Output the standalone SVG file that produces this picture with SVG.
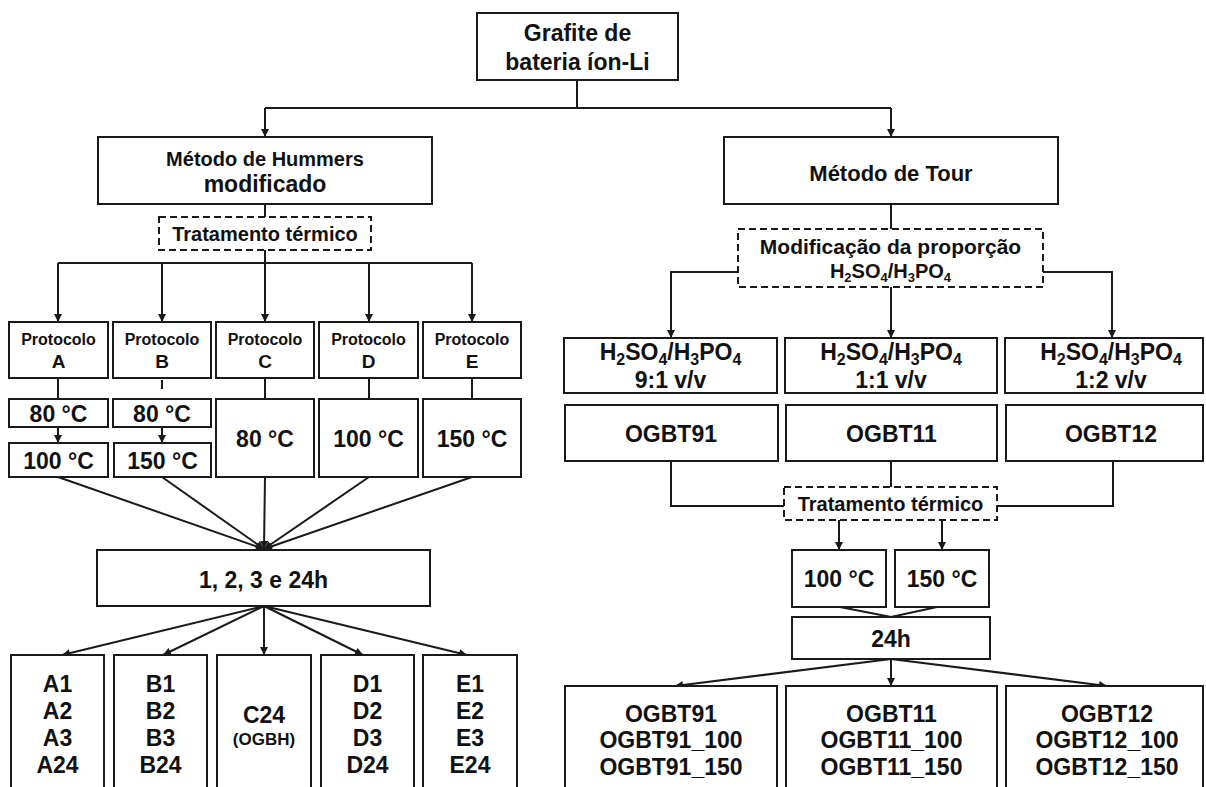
<svg xmlns="http://www.w3.org/2000/svg" width="1206" height="787" viewBox="0 0 1206 787">
<defs>
<style>
.b{fill:#fff;stroke:#1a1a1a;stroke-width:2}
.d{fill:#fff;stroke:#1a1a1a;stroke-width:2;stroke-dasharray:7 4}
.c{fill:none;stroke:#1a1a1a;stroke-width:2}
text{font-family:"Liberation Sans",Arial,sans-serif;font-weight:bold;fill:#111;text-anchor:middle}
.s{font-size:16px}
.m{font-size:20px}
.l{font-size:23px}
</style>
<marker id="ah" viewBox="0 0 10 10" refX="10" refY="5" markerWidth="9" markerHeight="8" markerUnits="userSpaceOnUse" orient="auto">
<path d="M0,0 L10,5 L0,10 z" fill="#1a1a1a"/>
</marker>
</defs>
<rect width="1206" height="787" fill="#fff"/>

<g id="connectors">
<path class="c" d="M577,80 V108 M265,108 H891"/>
<path class="c" d="M265,108 V137" marker-end="url(#ah)"/>
<path class="c" d="M891,108 V137" marker-end="url(#ah)"/>
<path class="c" d="M265,204 V217 M265,250 V263 M58,263 H472"/>
<path class="c" d="M58,263 V322" marker-end="url(#ah)"/>
<path class="c" d="M162,263 V322" marker-end="url(#ah)"/>
<path class="c" d="M265,263 V322" marker-end="url(#ah)"/>
<path class="c" d="M369,263 V322" marker-end="url(#ah)"/>
<path class="c" d="M472,263 V322" marker-end="url(#ah)"/>
<path class="c" d="M58,378 V399 M162,380 V389 M265,378 V399 M369,378 V399 M472,378 V399"/>
<path class="c" d="M58,427 V443" marker-end="url(#ah)"/>
<path class="c" d="M162,427 V443" marker-end="url(#ah)"/>
<path class="c" d="M58,477 L264,549" marker-end="url(#ah)"/>
<path class="c" d="M162,477 L264,549" marker-end="url(#ah)"/>
<path class="c" d="M265,477 L264,549" marker-end="url(#ah)"/>
<path class="c" d="M369,477 L264,549" marker-end="url(#ah)"/>
<path class="c" d="M472,477 L264,549" marker-end="url(#ah)"/>
<path class="c" d="M264,606 L62,655" marker-end="url(#ah)"/>
<path class="c" d="M264,606 L163,655" marker-end="url(#ah)"/>
<path class="c" d="M264,606 L264,655" marker-end="url(#ah)"/>
<path class="c" d="M264,606 L363,655" marker-end="url(#ah)"/>
<path class="c" d="M264,606 L467,655" marker-end="url(#ah)"/>
<path class="c" d="M891,204 V229"/>
<path class="c" d="M738,272 H671 V338" marker-end="url(#ah)"/>
<path class="c" d="M891,287 V338" marker-end="url(#ah)"/>
<path class="c" d="M1043,272 H1112 V338" marker-end="url(#ah)"/>
<path class="c" d="M671,461 V506 H784 M891,461 V487 M1113,461 V506 H997"/>
<path class="c" d="M839,520 V550" marker-end="url(#ah)"/>
<path class="c" d="M942,520 V550" marker-end="url(#ah)"/>
<path class="c" d="M840,607 L891,617 L937,607"/>
<path class="c" d="M891,659 L675,686" marker-end="url(#ah)"/>
<path class="c" d="M891,659 L891,686" marker-end="url(#ah)"/>
<path class="c" d="M891,659 L1107,686" marker-end="url(#ah)"/>
</g>

<g id="grafite">
<rect class="b" x="477" y="13" width="201" height="67"/>
<text class="l" x="577.5" y="41">Grafite de</text>
<text class="l" x="577.5" y="70">bateria íon-Li</text>
</g>

<g id="hummers">
<rect class="b" x="98" y="137" width="334" height="67"/>
<text class="m" x="265" y="166">Método de Hummers</text>
<text class="l" x="265" y="192">modificado</text>
</g>

<g id="tour">
<rect class="b" x="724" y="137" width="334" height="67"/>
<text style="font-size:22px" x="891" y="181">Método de Tour</text>
</g>

<g id="trat1">
<rect class="d" x="159" y="217" width="212" height="33"/>
<text class="m" x="265" y="241">Tratamento térmico</text>
</g>

<g id="protA"><rect class="b" x="9" y="322" width="99" height="56"/><text class="s" x="58.5" y="345">Protocolo</text><text style="font-size:19px" x="58.5" y="368">A</text></g>
<g id="protB"><rect class="b" x="113" y="322" width="98" height="56"/><text class="s" x="162" y="345">Protocolo</text><text style="font-size:19px" x="162" y="368">B</text></g>
<g id="protC"><rect class="b" x="216" y="322" width="98" height="56"/><text class="s" x="265" y="345">Protocolo</text><text style="font-size:19px" x="265" y="368">C</text></g>
<g id="protD"><rect class="b" x="319" y="322" width="99" height="56"/><text class="s" x="368.5" y="345">Protocolo</text><text style="font-size:19px" x="368.5" y="368">D</text></g>
<g id="protE"><rect class="b" x="423" y="322" width="98" height="56"/><text class="s" x="472" y="345">Protocolo</text><text style="font-size:19px" x="472" y="368">E</text></g>

<g id="a80"><rect class="b" x="9" y="399" width="99" height="28"/><text class="l" x="58.5" y="422">80 °C</text></g>
<g id="b80"><rect class="b" x="113" y="399" width="98" height="28"/><text class="l" x="162" y="422">80 °C</text></g>
<g id="a100"><rect class="b" x="9" y="443" width="99" height="34"/><text class="l" x="58.5" y="469">100 °C</text></g>
<g id="b150"><rect class="b" x="114" y="443" width="97" height="34"/><text class="l" x="162.5" y="469">150 °C</text></g>
<g id="c80"><rect class="b" x="216" y="399" width="98" height="78"/><text class="l" x="265" y="447">80 °C</text></g>
<g id="d100"><rect class="b" x="319" y="399" width="99" height="78"/><text class="l" x="368.5" y="447">100 °C</text></g>
<g id="e150"><rect class="b" x="423" y="399" width="98" height="78"/><text class="l" x="472" y="447">150 °C</text></g>

<g id="tempos">
<rect class="b" x="97" y="550" width="333" height="56"/>
<text class="l" x="263.5" y="588">1, 2, 3 e 24h</text>
</g>

<g id="resA"><rect class="b" x="11" y="655" width="93" height="145"/><text class="l" x="57.5" y="692">A1</text><text class="l" x="57.5" y="719">A2</text><text class="l" x="57.5" y="746">A3</text><text class="l" x="57.5" y="773">A24</text></g>
<g id="resB"><rect class="b" x="114" y="655" width="93" height="145"/><text class="l" x="160.5" y="692">B1</text><text class="l" x="160.5" y="719">B2</text><text class="l" x="160.5" y="746">B3</text><text class="l" x="160.5" y="773">B24</text></g>
<g id="resC"><rect class="b" x="217" y="655" width="94" height="145"/><text class="l" x="264" y="723">C24</text><text style="font-size:17px" x="264" y="745">(OGBH)</text></g>
<g id="resD"><rect class="b" x="321" y="655" width="93" height="145"/><text class="l" x="367.5" y="692">D1</text><text class="l" x="367.5" y="719">D2</text><text class="l" x="367.5" y="746">D3</text><text class="l" x="367.5" y="773">D24</text></g>
<g id="resE"><rect class="b" x="423" y="655" width="94" height="145"/><text class="l" x="470" y="692">E1</text><text class="l" x="470" y="719">E2</text><text class="l" x="470" y="746">E3</text><text class="l" x="470" y="773">E24</text></g>

<g id="modif">
<rect class="d" x="738" y="229" width="305" height="58"/>
<text style="font-size:21px" x="890.5" y="254">Modificação da proporção</text>
<text class="m" x="890.5" y="278">H<tspan font-size="13" dy="4">2</tspan><tspan dy="-4">SO</tspan><tspan font-size="13" dy="4">4</tspan><tspan dy="-4">/H</tspan><tspan font-size="13" dy="4">3</tspan><tspan dy="-4">PO</tspan><tspan font-size="13" dy="4">4</tspan></text>
</g>

<g id="r91"><rect class="b" x="564" y="338" width="213" height="55"/>
<text class="l" x="670.5" y="360">H<tspan font-size="16" dy="5">2</tspan><tspan dy="-5">SO</tspan><tspan font-size="16" dy="5">4</tspan><tspan dy="-5">/H</tspan><tspan font-size="16" dy="5">3</tspan><tspan dy="-5">PO</tspan><tspan font-size="16" dy="5">4</tspan></text>
<text class="l" x="670.5" y="388">9:1 v/v</text></g>
<g id="r11"><rect class="b" x="785" y="338" width="212" height="55"/>
<text class="l" x="891" y="360">H<tspan font-size="16" dy="5">2</tspan><tspan dy="-5">SO</tspan><tspan font-size="16" dy="5">4</tspan><tspan dy="-5">/H</tspan><tspan font-size="16" dy="5">3</tspan><tspan dy="-5">PO</tspan><tspan font-size="16" dy="5">4</tspan></text>
<text class="l" x="891" y="388">1:1 v/v</text></g>
<g id="r12"><rect class="b" x="1005" y="338" width="198" height="55"/>
<text class="l" x="1111" y="360">H<tspan font-size="16" dy="5">2</tspan><tspan dy="-5">SO</tspan><tspan font-size="16" dy="5">4</tspan><tspan dy="-5">/H</tspan><tspan font-size="16" dy="5">3</tspan><tspan dy="-5">PO</tspan><tspan font-size="16" dy="5">4</tspan></text>
<text class="l" x="1111" y="388">1:2 v/v</text></g>

<g id="ogbt91"><rect class="b" x="565" y="405" width="213" height="56"/><text class="l" x="671" y="442">OGBT91</text></g>
<g id="ogbt11"><rect class="b" x="786" y="405" width="211" height="56"/><text class="l" x="891.5" y="442">OGBT11</text></g>
<g id="ogbt12"><rect class="b" x="1006" y="405" width="197" height="56"/><text class="l" x="1111" y="442">OGBT12</text></g>

<g id="trat2">
<rect class="d" x="784" y="487" width="213" height="33"/>
<text class="m" x="890.5" y="511">Tratamento térmico</text>
</g>

<g id="t100"><rect class="b" x="792" y="550" width="94" height="57"/><text class="l" x="839" y="587">100 °C</text></g>
<g id="t150"><rect class="b" x="895" y="550" width="94" height="57"/><text class="l" x="942" y="587">150 °C</text></g>
<g id="h24"><rect class="b" x="792" y="617" width="198" height="42"/><text class="l" x="891" y="647">24h</text></g>

<g id="f91"><rect class="b" x="565" y="686" width="212" height="120"/><text class="l" x="671" y="722">OGBT91</text><text class="l" x="671" y="748">OGBT91_100</text><text class="l" x="671" y="775">OGBT91_150</text></g>
<g id="f11"><rect class="b" x="786" y="686" width="211" height="120"/><text class="l" x="891.5" y="722">OGBT11</text><text class="l" x="891.5" y="748">OGBT11_100</text><text class="l" x="891.5" y="775">OGBT11_150</text></g>
<g id="f12"><rect class="b" x="1006" y="686" width="197" height="120"/><text class="l" x="1107" y="722">OGBT12</text><text class="l" x="1107" y="748">OGBT12_100</text><text class="l" x="1107" y="775">OGBT12_150</text></g>
</svg>
